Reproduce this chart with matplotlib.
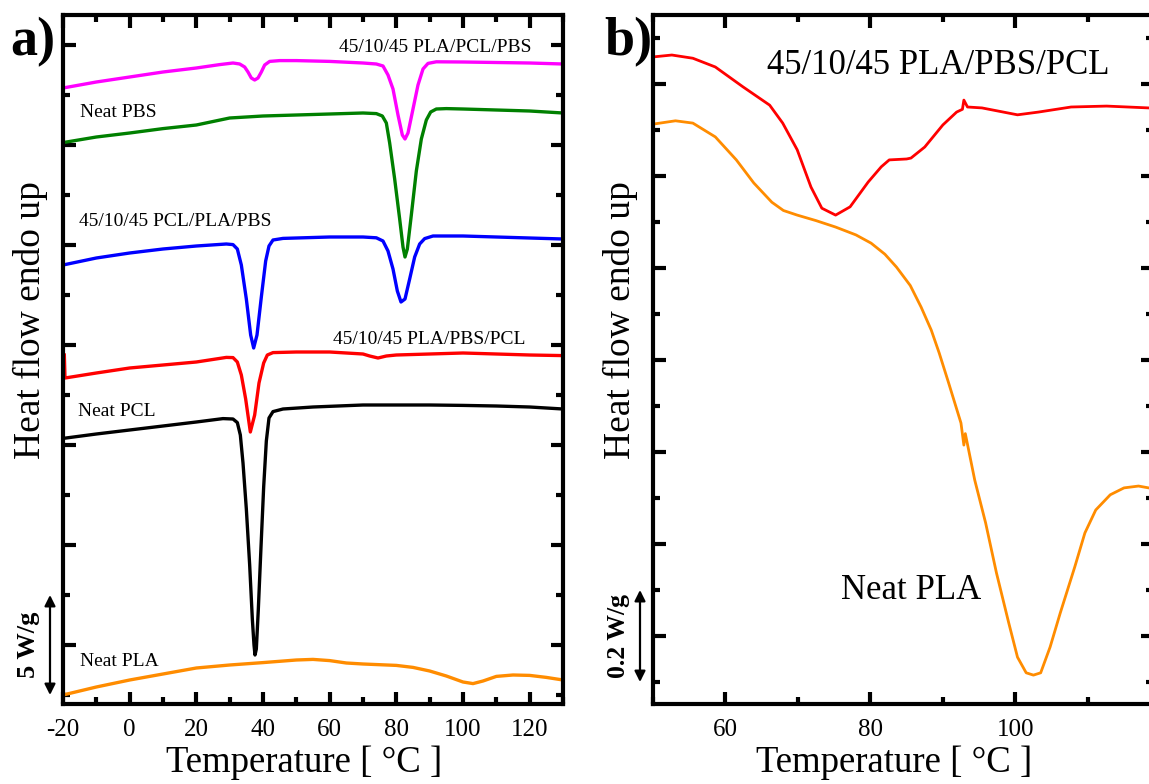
import matplotlib
matplotlib.use('Agg')
import matplotlib.pyplot as plt
import matplotlib.transforms as mtransforms
from matplotlib.ticker import MultipleLocator, FixedLocator

plt.rcParams['font.family'] = ['Liberation Serif', 'DejaVu Serif']
plt.rcParams['axes.unicode_minus'] = False

# ---- panel a: heat flow curves (W/g, vertically shifted) ----
t_pcl_pbs = [-20, -10, 0, 10, 20, 27, 31, 33, 34.5, 35.5, 36.5, 37.5, 38.5, 39.5, 40.5, 42, 45,
             50, 60, 70, 74, 76, 77.5, 79, 80.5, 81.8, 82.6, 83.5, 85, 86.5, 88, 89.5, 92, 100,
             120, 130]
hf_pcl_pbs = [30.35, 30.65, 30.9, 31.15, 31.35, 31.52, 31.6, 31.55, 31.4, 31.15, 30.85, 30.75,
              30.85, 31.15, 31.5, 31.68, 31.72, 31.72, 31.68, 31.6, 31.55, 31.45, 31.0, 30.3,
              29.0, 28.0, 27.8, 28.1, 29.3, 30.5, 31.3, 31.58, 31.66, 31.65, 31.6, 31.55]

t_pbs = [-20, -10, 0, 10, 20, 30, 40, 50, 60, 70, 74, 75.8, 77, 78, 79.5, 81, 82, 82.6, 83.3,
         84.5, 86, 87.5, 89, 90.3, 92, 95, 100, 110, 120, 130]
hf_pbs = [27.62, 27.9, 28.1, 28.32, 28.5, 28.85, 28.95, 29.0, 29.05, 29.1, 29.07, 28.95, 28.6,
          27.6, 25.8, 23.8, 22.4, 21.9, 22.3, 24.0, 26.2, 27.8, 28.75, 29.15, 29.3, 29.32,
          29.3, 29.25, 29.2, 29.1]

t_pla_pbs = [-20, -10, 0, 10, 20, 29, 31, 32.3, 33.5, 35, 36.3, 37.2, 38.2, 39.5, 40.8, 41.8,
             43, 46, 50, 60, 70, 74, 76, 77.5, 79, 80.3, 81.4, 82.6, 84, 85.5, 87, 88.5, 91,
             100, 110, 120, 130]
hf_pla_pbs = [21.5, 21.85, 22.1, 22.3, 22.45, 22.55, 22.52, 22.3, 21.5, 19.8, 18.0, 17.35, 18.0,
              19.9, 21.7, 22.45, 22.75, 22.83, 22.85, 22.9, 22.9, 22.86, 22.7, 22.2, 21.3, 20.2,
              19.65, 19.8, 20.8, 21.9, 22.55, 22.82, 22.95, 22.95, 22.9, 22.85, 22.8]

t_pbs_pcl = [-19.6, -19.4, -10, 0, 10, 20, 29, 31, 32.3, 33.5, 34.8, 36.2, 37.5, 38.8, 40.2,
             41.3, 43, 50, 60, 70, 72, 74.5, 77, 80, 90, 100, 110, 120, 130]
hf_pbs_pcl = [17.0, 15.85, 16.1, 16.35, 16.5, 16.65, 16.88, 16.87, 16.65, 16.0, 14.8, 13.15,
              14.0, 15.6, 16.6, 17.0, 17.12, 17.15, 17.15, 17.05, 16.95, 16.85, 16.95, 17.0,
              17.05, 17.1, 17.05, 17.0, 16.97]

t_pcl = [-20, -10, 0, 10, 20, 28, 31, 32.3, 33.2, 34, 35, 36, 36.8, 37.3, 37.6, 38, 38.6, 39.4,
         40.2, 41, 41.8, 43, 46, 55, 70, 90, 100, 110, 120, 130]
hf_pcl = [12.83, 13.05, 13.25, 13.45, 13.65, 13.82, 13.8, 13.62, 13.0, 11.6, 9.3, 6.5, 3.8, 2.5,
          2.0, 2.3, 4.3, 7.4, 10.4, 12.7, 13.85, 14.17, 14.3, 14.4, 14.5, 14.5, 14.48, 14.45,
          14.4, 14.3]

t_pla = [-20, -10, 0, 10, 20, 30, 40, 50, 55, 60, 65, 70, 80, 85, 90, 95, 100, 103, 106, 110,
         115, 120, 125, 130]
hf_pla = [0.0, 0.4, 0.75, 1.05, 1.35, 1.5, 1.62, 1.75, 1.78, 1.72, 1.6, 1.55, 1.48, 1.38, 1.2,
          0.95, 0.65, 0.57, 0.7, 0.93, 1.0, 0.98, 0.88, 0.75]

# ---- panel b: zoom on 50-118 C ----
tb_blend = [50.1, 52.6, 55.5, 58.6, 62.4, 66.1, 67.9, 69.9, 71.8, 73.3, 75.2, 77.2, 79.7, 81.5,
            82.6, 85.0, 85.6, 87.5, 90.0, 91.9, 92.7, 92.9, 93.4, 95.4, 100.3, 103.2, 107.7,
            112.6, 118.4]
hfb_blend = [1.359, 1.363, 1.356, 1.337, 1.294, 1.254, 1.215, 1.157, 1.076, 1.030, 1.015, 1.033,
             1.087, 1.120, 1.135, 1.137, 1.139, 1.163, 1.211, 1.239, 1.245, 1.265, 1.250, 1.248,
             1.233, 1.239, 1.250, 1.252, 1.248]

tb_pla = [50.1, 53.1, 55.5, 58.6, 61.5, 63.9, 66.4, 68.0, 69.9, 72.5, 75.2, 78.0, 80.1, 82.0,
          83.6, 85.5, 87.0, 88.4, 89.5, 90.8, 92.5, 92.9, 93.1, 94.4, 95.9, 97.4, 99.1, 100.3,
          101.5, 102.5, 103.5, 104.8, 106.2, 108.2, 109.6, 111.1, 113.1, 115.0, 117.0, 118.4]
hfb_pla = [1.213, 1.220, 1.215, 1.185, 1.135, 1.085, 1.043, 1.025, 1.015, 1.003, 0.989, 0.972,
           0.954, 0.930, 0.902, 0.862, 0.815, 0.765, 0.715, 0.650, 0.563, 0.515, 0.540, 0.439,
           0.346, 0.237, 0.128, 0.054, 0.020, 0.015, 0.020, 0.076, 0.150, 0.250, 0.324, 0.374,
           0.407, 0.422, 0.426, 0.422]

c_mag, c_green, c_blue = '#ff00ff', '#008000', '#0000ff'
c_red, c_orange = '#ff0000', '#ff8c00'

fig = plt.figure(figsize=(11.49, 7.84), dpi=100)
W, H = 1149.0, 784.0
ax1 = fig.add_axes([63 / W, 80 / H, 500 / W, 689 / H])
ax2 = fig.add_axes([653 / W, 80 / H, 500 / W, 689 / H])

lw_a = 2.4
ax1.plot(t_pcl_pbs, hf_pcl_pbs, color=c_mag, lw=lw_a)
ax1.plot(t_pbs, hf_pbs, color=c_green, lw=lw_a)
ax1.plot(t_pla_pbs, hf_pla_pbs, color=c_blue, lw=lw_a)
ax1.plot(t_pbs_pcl, hf_pbs_pcl, color=c_red, lw=lw_a)
ax1.plot(t_pcl, hf_pcl, color='black', lw=lw_a)
ax1.plot(t_pla, hf_pla, color=c_orange, lw=lw_a)
ax1.set_xlim(-20, 130)
ax1.set_ylim(-0.45, 34.0)
ax1.xaxis.set_major_locator(MultipleLocator(20))
ax1.xaxis.set_minor_locator(MultipleLocator(10))
ax1.yaxis.set_major_locator(FixedLocator([2.5 + 5 * i for i in range(7)]))
ax1.yaxis.set_minor_locator(FixedLocator([5 * i for i in range(7)]))

fs_lab = 14
ax1.text(62.8, 32.4, '45/10/45 PLA/PCL/PBS', fontsize=fs_lab, va='center')
ax1.text(-14.9, 29.15, 'Neat PBS', fontsize=fs_lab, va='center')
ax1.text(-15.2, 23.7, '45/10/45 PCL/PLA/PBS', fontsize=fs_lab, va='center')
ax1.text(61.0, 17.8, '45/10/45 PLA/PBS/PCL', fontsize=fs_lab, va='center')
ax1.text(-15.5, 14.2, 'Neat PCL', fontsize=fs_lab, va='center')
ax1.text(-14.9, 1.65, 'Neat PLA', fontsize=fs_lab, va='center')

lw_b = 2.0
ax2.plot(tb_blend, hfb_blend, color=c_red, lw=lw_b)
ax2.plot(tb_pla, hfb_pla, color=c_orange, lw=lw_b)
ax2.set_xlim(50, 119)
ax2.set_ylim(-0.0478, 1.45)
ax2.xaxis.set_major_locator(MultipleLocator(20))
ax2.xaxis.set_minor_locator(MultipleLocator(10))
ax2.yaxis.set_major_locator(FixedLocator([0.1 + 0.2 * i for i in range(8)]))
ax2.yaxis.set_minor_locator(FixedLocator([0.2 * i for i in range(8)]))
ax2.text(65.7, 1.341, '45/10/45 PLA/PBS/PCL', fontsize=25, va='center')
ax2.text(75.9, 0.2, 'Neat PLA', fontsize=25, va='center')

for ax in (ax1, ax2):
    for s in ax.spines.values():
        s.set_linewidth(3)
    ax.tick_params(which='both', direction='in', top=True, right=True, width=3,
                   labelsize=18, pad=10.5)
    ax.tick_params(which='major', length=9)
    ax.tick_params(which='minor', length=5)
    ax.set_yticklabels([])
    ax.set_yticklabels([], minor=True)
    ax.text(0.483, -0.0856, 'Temperature [ \u00b0C ]', fontsize=26.5, transform=ax.transAxes,
            ha='center', va='center')
    ax.text(-0.065, 0.557, 'Heat flow endo up', fontsize=27, rotation=90,
            transform=ax.transAxes, ha='center', va='center')

# scale bars
tr1 = mtransforms.blended_transform_factory(ax1.transAxes, ax1.transData)
ax1.annotate('', xy=(-0.026, 0), xytext=(-0.026, 5), xycoords=tr1, textcoords=tr1,
             arrowprops=dict(arrowstyle='<|-|>', color='black', lw=1.6,
                             mutation_scale=16, shrinkA=0, shrinkB=0), annotation_clip=False)
ax1.text(-0.07, 2.5, '5 W/g', transform=tr1, rotation=90, fontsize=19, fontweight='bold',
         ha='center', va='center')
tr2 = mtransforms.blended_transform_factory(ax2.transAxes, ax2.transData)
ax2.annotate('', xy=(-0.026, 0), xytext=(-0.026, 0.2), xycoords=tr2, textcoords=tr2,
             arrowprops=dict(arrowstyle='<|-|>', color='black', lw=1.6,
                             mutation_scale=16, shrinkA=0, shrinkB=0), annotation_clip=False)
ax2.text(-0.07, 0.1, '0.2 W/g', transform=tr2, rotation=90, fontsize=18.5, fontweight='bold',
         ha='center', va='center')

fig.text(10 / W, 1 - 42 / H, 'a)', fontsize=39, fontweight='bold', ha='left', va='center')
fig.text(604 / W, 1 - 42 / H, 'b)', fontsize=39, fontweight='bold', ha='left', va='center')

fig.savefig('out.png', dpi=100)
